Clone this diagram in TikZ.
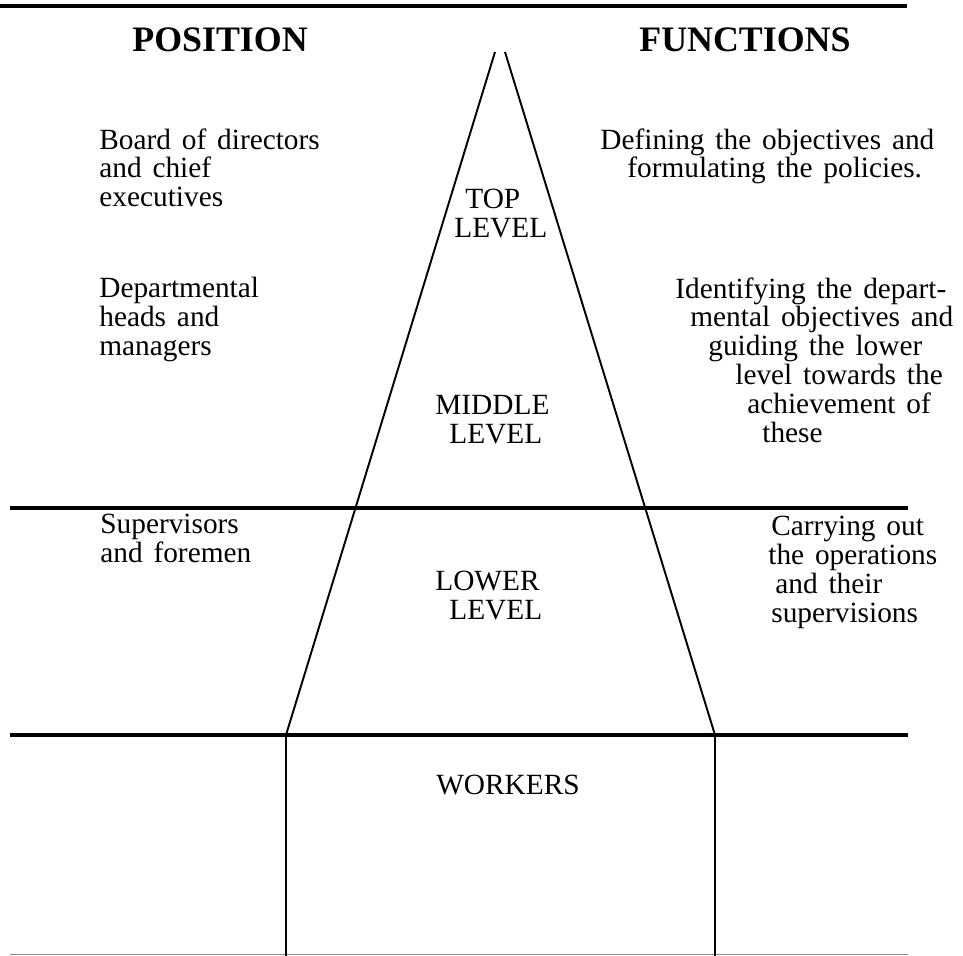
\documentclass[tikz,border=0pt]{standalone}
\usepackage{fontspec}
\setmainfont{Liberation Serif}
\usetikzlibrary{positioning}
\newcommand\wordgap{\spaceskip 0.37em plus 0.1em\relax}

\begin{document}
\begin{tikzpicture}[x=0.02cm,y=-0.02cm,
  txt/.style={anchor=north west,inner sep=0pt,align=left,
    font=\fontsize{16.7}{16.4}\selectfont\wordgap},
  head/.style={inner sep=0pt,font=\fontsize{20.4}{22}\selectfont\bfseries},
  rule/.style={line width=1.9pt},
  side/.style={line width=1.1pt}]
\useasboundingbox (0,0) rectangle (963,956);
% rules
\draw[line width=2.6pt] (0,6)--(907,6);
\draw[rule] (10,508)--(908,508);
\draw[rule] (10,735)--(908,735);
\draw[line width=1.1pt,black!45] (10,954.5)--(908,954.5);
% pyramid
\coordinate (apexL) at (495,52);
\coordinate (apexR) at (505,52);
\coordinate (footL) at (286,735);
\coordinate (footR) at (715,735);
\draw[side] (apexL)--(footL)--(footL |- 0,956);
\draw[side] (apexR)--(footR)--(footR |- 0,956);
% headings
\node[head] (pos) at (220,40) {POSITION};
\node[head] (fun) at (745,40) {FUNCTIONS};
% levels
\node[txt] (top) at (454,189) {\hspace{0.22cm}TOP\\LEVEL};
\node[txt] (mid) at (435,395) {MIDDLE\\\hspace{0.28cm}LEVEL};
\node[txt] (low) at (435,571) {LOWER\\\hspace{0.28cm}LEVEL};
\node[txt,anchor=center] (wrk) at (508,785) {WORKERS};
% positions
\node[txt] (board) at (99,128) {Board of directors\\and chief\\executives};
\node[txt] (dept) at (99,277) {Departmental\\heads and\\managers};
\node[txt] (sup) at (100,514) {Supervisors\\and foremen};
% functions
\node[txt] (def) at (600,128) {Defining the objectives and\\\hspace{0.54cm}formulating the policies.};
\node[txt] (ident) at (675,277) {Identifying the depart-\\
  \hspace{0.3cm}mental objectives and\\
  \hspace{0.66cm}guiding the lower\\
  \hspace{1.2cm}level towards the\\
  \hspace{1.44cm}achievement of\\
  \hspace{1.74cm}these};
\node[txt] (carry) at (768,516) {\hspace{0.06cm}Carrying out\\
  the operations\\
  \hspace{0.14cm}and their\\
  \hspace{0.06cm}supervisions};
\end{tikzpicture}
\end{document}
